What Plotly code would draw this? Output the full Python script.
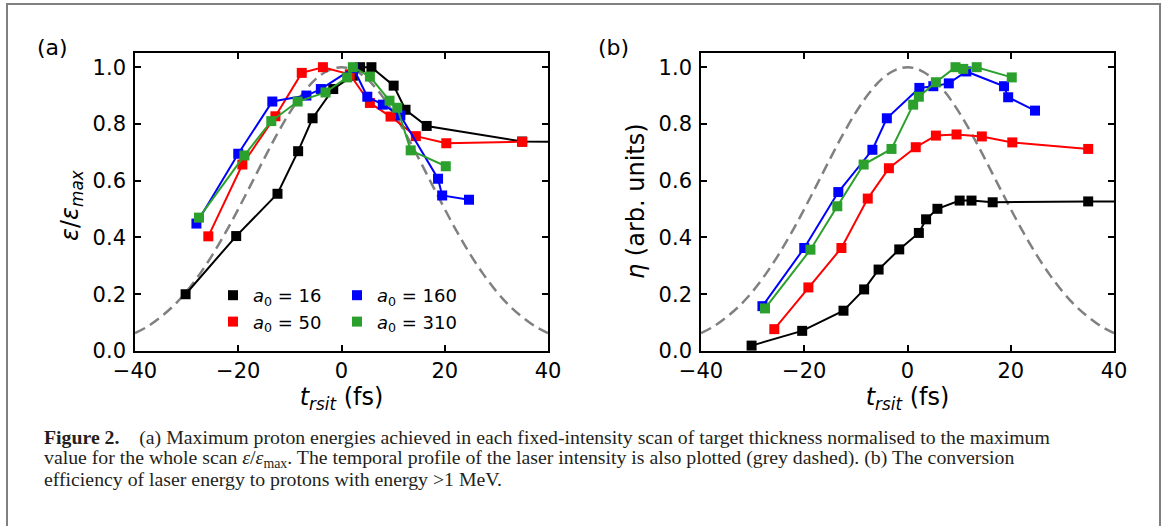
import plotly.graph_objects as go

# ---------------- data ----------------
# laser temporal intensity profile (grey dashed)
profile_t = [-40, -37.5, -35, -32.5, -30, -27.5, -25, -22.5, -20, -17.5, -15, -12.5, -10, -7.5, -5, -2.5, 0,
             2.5, 5, 7.5, 10, 12.5, 15, 17.5, 20, 22.5, 25, 27.5, 30, 32.5, 35, 37.5, 40]
profile_v = [0.063, 0.087, 0.12, 0.16, 0.21, 0.27, 0.339, 0.416, 0.5, 0.588, 0.677, 0.763, 0.841, 0.907, 0.958, 0.989, 1.0,
             0.989, 0.958, 0.907, 0.841, 0.763, 0.677, 0.588, 0.5, 0.416, 0.339, 0.27, 0.21, 0.16, 0.12, 0.087, 0.063]

# a0 = 16
t16 = [-30.2, -20.4, -12.4, -8.4, -5.6, -1.6, 2.2, 3.6, 5.8, 10.1, 12.4, 16.5, 35, 60]
e16 = [0.20, 0.405, 0.554, 0.704, 0.82, 0.923, 0.97, 1.0, 1.0, 0.935, 0.85, 0.793, 0.738, 0.735]
n16 = [0.019, 0.071, 0.142, 0.217, 0.287, 0.358, 0.416, 0.464, 0.501, 0.53, 0.53, 0.524, 0.527, 0.527]
# a0 = 50
t50 = [-25.8, -19.2, -12.8, -7.7, -3.6, 1.6, 5.5, 9.5, 14.4, 20.3, 35]
e50 = [0.404, 0.657, 0.827, 0.98, 1.0, 0.975, 0.874, 0.826, 0.757, 0.732, 0.737]
n50 = [0.077, 0.224, 0.363, 0.537, 0.644, 0.718, 0.759, 0.763, 0.756, 0.735, 0.712]
# a0 = 160
t160 = [-28.1, -20.0, -13.4, -6.8, -4.0, 2.3, 5.0, 8.0, 11.4, 18.7, 19.5, 24.7]
e160 = [0.449, 0.695, 0.879, 0.9, 0.923, 0.997, 0.896, 0.868, 0.83, 0.607, 0.548, 0.533]
n160 = [0.158, 0.363, 0.56, 0.709, 0.82, 0.927, 0.933, 0.943, 0.985, 0.933, 0.894, 0.847]
# a0 = 310
t310 = [-27.6, -18.8, -13.6, -8.5, -3.1, 1.1, 2.2, 5.5, 9.3, 10.8, 13.4, 20.2]
e310 = [0.47, 0.689, 0.81, 0.879, 0.911, 0.964, 1.0, 0.967, 0.882, 0.857, 0.707, 0.651]
n310 = [0.15, 0.357, 0.51, 0.657, 0.712, 0.868, 0.896, 0.947, 1.0, 0.994, 1.0, 0.964]

series_names = ["16", "50", "160", "310"]
series_colors = ["#000000", "#ff0000", "#0000ff", "#2ca02c"]
series_t = [t16, t50, t160, t310]
series_e = [e16, e50, e160, e310]
series_n = [n16, n50, n160, n310]
legend_of = ["legend", "legend", "legend2", "legend2"]

x_ticks = [-40, -20, 0, 20, 40]
y_ticks = [0.0, 0.2, 0.4, 0.6, 0.8, 1.0]

# ---------------- figure ----------------
W, H = 1165, 526
FONT = "DejaVu Sans"


def px_x(p):
    return p / W


def px_y(p):
    return 1 - p / H


fig = go.Figure()

for xa, ya in (("x", "y"), ("x2", "y2")):
    fig.add_trace(go.Scatter(x=profile_t, y=profile_v, mode="lines",
                             line=dict(color="#808080", width=2.5, dash="11px,6px", shape="spline"),
                             showlegend=False, hoverinfo="skip", xaxis=xa, yaxis=ya))

for name, col, t, e, n, lg in zip(series_names, series_colors, series_t, series_e, series_n, legend_of):
    fig.add_trace(go.Scatter(x=t, y=e, mode="lines+markers", line=dict(color=col, width=2),
                             marker=dict(symbol="square", size=10, color=col), showlegend=False,
                             xaxis="x", yaxis="y"))
    fig.add_trace(go.Scatter(x=t, y=n, mode="lines+markers", line=dict(color=col, width=2),
                             marker=dict(symbol="square", size=10, color=col), showlegend=False,
                             xaxis="x2", yaxis="y2"))
    fig.add_trace(go.Scatter(x=[None], y=[None], mode="markers", marker=dict(symbol="square", size=10, color=col),
                             name=f"<i>a</i><sub>0</sub> = {name}", legend=lg, xaxis="x", yaxis="y"))

axis_common = dict(showline=True, linecolor="black", linewidth=1.6, mirror="ticks", ticks="inside", ticklen=6,
                   tickwidth=1.6, tickcolor="black", showgrid=False, zeroline=False, automargin=False,
                   tickfont=dict(family=FONT, size=21, color="black"))

xdom_a = [px_x(135), px_x(548)]
xdom_b = [px_x(701), px_x(1114)]
ydom = [px_y(351), px_y(53)]

xtitle = dict(text="<i>t</i><sub><i>rsit</i></sub> (fs)", font=dict(family=FONT, size=24, color="black"), standoff=4)

fig.update_layout(
    width=W, height=H, margin=dict(l=0, r=0, t=0, b=0, autoexpand=False),
    paper_bgcolor="white", plot_bgcolor="white",
    font=dict(family=FONT, color="black"),
    xaxis=dict(domain=xdom_a, range=[-40, 40], tickvals=x_ticks, anchor="y", title=xtitle, **axis_common),
    yaxis=dict(domain=ydom, range=[0, 1.05], tickvals=y_ticks, tickformat=".1f", anchor="x",
               ticklabelstandoff=3, **axis_common),
    xaxis2=dict(domain=xdom_b, range=[-40, 40], tickvals=x_ticks, anchor="y2", title=xtitle, **axis_common),
    yaxis2=dict(domain=ydom, range=[0, 1.05], tickvals=y_ticks, tickformat=".1f", anchor="x2",
                ticklabelstandoff=3, **axis_common),
    legend=dict(x=px_x(213), y=px_y(277), xanchor="left", yanchor="top", bgcolor="rgba(0,0,0,0)",
                font=dict(family=FONT, size=18, color="black"), tracegroupgap=0),
    legend2=dict(x=px_x(337), y=px_y(277), xanchor="left", yanchor="top", bgcolor="rgba(0,0,0,0)",
                 font=dict(family=FONT, size=18, color="black"), tracegroupgap=0),
)

# y-axis titles
for txt, xp, yp in (("<i>ε</i>/<i>ε</i><sub><i>max</i></sub>", 71, 205),
                    ("<i>η</i> (arb. units)", 636, 201)):
    fig.add_annotation(text=txt, x=px_x(xp), y=px_y(yp), xref="paper", yref="paper", showarrow=False,
                       textangle=-90, xanchor="center", yanchor="middle",
                       font=dict(family=FONT, size=24, color="black"))

# panel labels
for txt, xp in (("(a)", 52), ("(b)", 614)):
    fig.add_annotation(text=txt, x=px_x(xp), y=px_y(47), xref="paper", yref="paper", showarrow=False,
                       xanchor="center", yanchor="middle", font=dict(family=FONT, size=22, color="black"))

# caption
caption_lines = [
    "<b>Figure 2.</b>\u2003(a) Maximum proton energies achieved in each fixed-intensity scan of target thickness normalised to the maximum",
    "value for the whole scan <i>ε</i>/<i>ε</i><sub>max</sub>. The temporal profile of the laser intensity is also plotted (grey dashed). (b) The conversion",
    "efficiency of laser energy to protons with energy &gt;1 MeV.",
]
for i, line in enumerate(caption_lines):
    fig.add_annotation(text=line, x=px_x(42), y=px_y(437 + 21 * i), xref="paper", yref="paper", showarrow=False,
                       xanchor="left", yanchor="middle", align="left",
                       font=dict(family="Liberation Serif", size=19.8, color="#231f20"))

# outer frame
fig.add_shape(type="rect", xref="paper", yref="paper", x0=px_x(7), x1=px_x(1160), y0=-0.2, y1=px_y(4),
              line=dict(color="#808080", width=2), fillcolor="rgba(0,0,0,0)", layer="below")

fig.write_html("out.html")
